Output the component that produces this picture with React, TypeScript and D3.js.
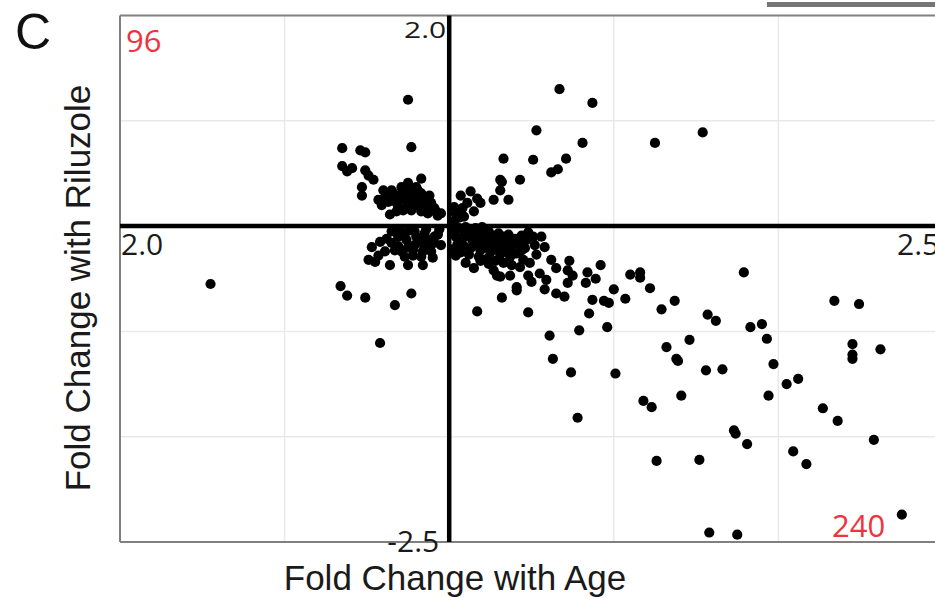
import { useEffect, useRef } from 'react';
import * as d3 from 'd3';

// [fold change with age, fold change with riluzole]
const upperLeft: [number, number][] = [
  [-0.25, 1.2], [-0.23, 0.75], [-0.65, 0.74], [-0.54, 0.72], [-0.51, 0.7], [-0.65, 0.57],
  [-0.62, 0.52], [-0.59, 0.55], [-0.51, 0.53], [-0.49, 0.48], [-0.46, 0.44], [-0.53, 0.37],
  [-0.53, 0.29], [-0.17, 0.45], [-0.36, 0.11], [-0.4, 0.34], [-0.41, 0.25], [-0.35, 0.34],
  [-0.31, 0.29], [-0.27, 0.33], [-0.23, 0.33], [-0.19, 0.34], [-0.37, 0.23], [-0.32, 0.22],
  [-0.27, 0.25], [-0.22, 0.25], [-0.17, 0.31], [-0.15, 0.25], [-0.11, 0.22], [-0.09, 0.17],
  [-0.23, 0.15], [-0.17, 0.14], [-0.13, 0.12], [-0.28, 0.15], [-0.32, 0.14], [-0.41, 0.2],
  [-0.38, 0.29], [-0.25, 0.41], [-0.2, 0.37], [-0.29, 0.37], [-0.34, 0.31], [-0.21, 0.2],
  [-0.07, 0.1], [-0.12, 0.29], [-0.05, 0.12], [-0.08, 0.14], [-0.13, 0.18], [-0.19, 0.2],
  [-0.25, 0.22], [-0.3, 0.27], [-0.43, 0.25], [-0.36, 0.27], [-0.31, 0.18], [-0.26, 0.18],
  [-0.2, 0.28], [-0.15, 0.2], [-0.1, 0.15], [-0.24, 0.29], [-0.33, 0.25], [-0.18, 0.24],
];

const upperRight: [number, number][] = [
  [0.07, 0.29], [0.13, 0.33], [0.17, 0.26], [0.19, 0.22], [0.11, 0.22], [0.08, 0.17],
  [0.15, 0.14], [0.04, 0.12], [0.09, 0.09], [0.03, 0.18], [0.03, 0.05], [0.06, 0.08],
  [0.67, 1.3], [0.87, 1.17], [0.53, 0.91], [0.81, 0.79], [0.33, 0.64], [0.51, 0.63],
  [0.71, 0.64], [0.62, 0.51], [0.66, 0.54], [0.43, 0.44], [0.31, 0.44], [0.32, 0.42],
  [0.31, 0.34], [0.27, 0.25], [0.36, 0.25], [1.25, 0.79], [1.54, 0.89],
];

const lowerLeft: [number, number][] = [
  [-1.45, -0.55], [-0.66, -0.57], [-0.62, -0.66], [-0.51, -0.68], [-0.33, -0.75], [-0.23, -0.64],
  [-0.42, -1.11], [-0.47, -0.2], [-0.49, -0.32], [-0.45, -0.34], [-0.36, -0.37], [-0.25, -0.37],
  [-0.16, -0.37], [-0.42, -0.15], [-0.38, -0.12], [-0.35, -0.16], [-0.31, -0.1], [-0.27, -0.07],
  [-0.21, -0.05], [-0.15, -0.07], [-0.09, -0.1], [-0.07, -0.08], [-0.33, -0.23], [-0.29, -0.24],
  [-0.25, -0.2], [-0.21, -0.18], [-0.17, -0.16], [-0.13, -0.21], [-0.11, -0.24], [-0.22, -0.28],
  [-0.27, -0.29], [-0.43, -0.28], [-0.39, -0.24], [-0.17, -0.29], [-0.24, -0.04], [-0.3, -0.04],
  [-0.13, -0.13], [-0.18, -0.12], [-0.07, -0.08], [-0.05, -0.18], [-0.1, -0.3], [-0.26, -0.13],
  [-0.2, -0.1], [-0.14, -0.03], [-0.09, -0.16], [-0.31, -0.19], [-0.22, -0.23], [-0.16, -0.24],
  [-0.35, -0.05], [-0.06, -0.03],
];

const lowerRight: [number, number][] = [
  [0.03, -0.04], [0.06, -0.02], [0.09, -0.05], [0.12, -0.03], [0.15, -0.06], [0.18, -0.04],
  [0.21, -0.08], [0.24, -0.05], [0.27, -0.09], [0.3, -0.07], [0.33, -0.1], [0.36, -0.08],
  [0.4, -0.12], [0.44, -0.09], [0.48, -0.06], [0.04, -0.1], [0.08, -0.12], [0.11, -0.09],
  [0.14, -0.13], [0.17, -0.11], [0.2, -0.15], [0.23, -0.12], [0.26, -0.16], [0.29, -0.14],
  [0.32, -0.18], [0.35, -0.15], [0.38, -0.2], [0.42, -0.17], [0.46, -0.21], [0.05, -0.17],
  [0.09, -0.19], [0.13, -0.21], [0.16, -0.18], [0.19, -0.23], [0.22, -0.2], [0.25, -0.25],
  [0.28, -0.22], [0.31, -0.27], [0.34, -0.24], [0.37, -0.29], [0.4, -0.26], [0.02, -0.22],
  [0.07, -0.25], [0.12, -0.27], [0.18, -0.29], [0.23, -0.31], [0.28, -0.33], [0.33, -0.35],
  [0.38, -0.37], [0.45, -0.32], [0.1, -0.01], [0.2, -0.01], [0.16, -0.02],
  [0.04, -0.28], [0.1, -0.35], [0.15, -0.4], [0.27, -0.42], [0.31, -0.48], [0.37, -0.47],
  [0.48, -0.47], [0.5, -0.53], [0.55, -0.45], [0.59, -0.51], [0.49, -0.35], [0.43, -0.39],
  [0.41, -0.26], [0.51, -0.1], [0.47, -0.13], [0.44, -0.23], [0.35, -0.13], [0.29, -0.47],
  [0.32, -0.68], [0.17, -0.81], [0.41, -0.58], [0.48, -0.82], [0.53, -0.27], [0.62, -0.32],
  [0.73, -0.33], [0.65, -0.4], [0.72, -0.42], [0.75, -0.47], [0.72, -0.54], [0.7, -0.67],
  [0.58, -0.6], [0.65, -0.64], [0.61, -1.04], [0.79, -0.99], [0.96, -0.96], [0.92, -0.37],
  [0.84, -0.44], [0.89, -0.5], [0.83, -0.54], [0.87, -0.7], [0.94, -0.71], [0.97, -0.73],
  [1.0, -0.6], [0.85, -0.83], [0.41, -0.61], [0.63, -1.26], [0.74, -1.39], [0.78, -1.82],
  [1.01, -1.4], [1.07, -0.69], [1.1, -0.46], [1.16, -0.44], [1.16, -0.49], [1.22, -0.59],
  [1.29, -0.79], [1.37, -0.71], [1.79, -0.44], [1.57, -0.84], [1.62, -0.9], [1.83, -0.96],
  [1.9, -0.93], [1.93, -1.07], [2.34, -0.71], [2.49, -0.74], [1.32, -1.15], [1.46, -1.08],
  [1.38, -1.26], [1.39, -1.28], [1.56, -1.37], [1.66, -1.36], [1.41, -1.61], [1.18, -1.66],
  [1.23, -1.72], [1.26, -2.23], [1.52, -2.22], [1.73, -1.94], [1.74, -1.97], [1.81, -2.07],
  [1.97, -1.31], [1.94, -1.61], [2.05, -1.5], [2.12, -1.45], [2.09, -2.14], [2.17, -2.26],
  [2.27, -1.73], [2.36, -1.85], [2.45, -1.12], [2.45, -1.26], [2.45, -1.22], [2.62, -1.17],
  [2.58, -2.03], [2.75, -2.74], [1.58, -2.91], [1.75, -2.93],
  [0.56, -0.1], [0.58, -0.2], [0.52, -0.18], [0.24, -0.36], [0.19, -0.33],
];

const xGrid = [-1, 1, 2];
const yGrid = [1, -1, -2];
const xEndLabels = ['2.0', '2.5'];
const yEndLabels = ['2.0', '-2.5'];
const quadrantCounts = ['96', '240'];

const ScatterPanel = () => {
  const ref = useRef<SVGSVGElement | null>(null);

  useEffect(() => {
    if (!ref.current) return;
    const svg = d3.select(ref.current);
    svg.selectAll('*').remove();
    const width = 935;
    const height = 598;
    svg.attr('width', width).attr('height', height);

    const x = d3.scaleLinear().domain([-2, 3]).range([120, 943]);
    const y = d3.scaleLinear().domain([-3, 2]).range([542, 15.5]);

    // bit of neighbouring panel in the corner
    svg.append('rect').attr('x', 767).attr('y', 2).attr('width', 168).attr('height', 5).attr('fill', '#767676');

    const grid = svg.append('g').attr('stroke', '#e9e9e9').attr('stroke-width', 1.5);
    grid.selectAll('line.v').data(xGrid).join('line')
      .attr('x1', (d) => x(d)).attr('x2', (d) => x(d))
      .attr('y1', y(2)).attr('y2', y(-3));
    grid.selectAll('line.h').data(yGrid).join('line')
      .attr('class', 'h')
      .attr('x1', x(-2)).attr('x2', width)
      .attr('y1', (d) => y(d)).attr('y2', (d) => y(d));

    // frame
    const frame = svg.append('g').attr('stroke', '#808080').attr('stroke-width', 2).attr('fill', 'none');
    frame.append('line').attr('x1', x(-2)).attr('x2', width).attr('y1', y(2)).attr('y2', y(2));
    frame.append('line').attr('x1', x(-2)).attr('x2', width).attr('y1', y(-3)).attr('y2', y(-3));
    frame.append('line').attr('x1', x(-2)).attr('x2', x(-2)).attr('y1', y(2)).attr('y2', y(-3));

    const all = [...upperLeft, ...upperRight, ...lowerLeft, ...lowerRight];
    svg.append('g').selectAll('circle').data(all).join('circle')
      .attr('cx', (d) => x(d[0]))
      .attr('cy', (d) => y(d[1]))
      .attr('r', 5.1)
      .attr('fill', '#000');

    // axes through the origin
    svg.append('line').attr('x1', x(0)).attr('x2', x(0)).attr('y1', y(2)).attr('y2', y(-3))
      .attr('stroke', '#000').attr('stroke-width', 4.5);
    svg.append('line').attr('x1', x(-2)).attr('x2', width).attr('y1', y(0)).attr('y2', y(0))
      .attr('stroke', '#000').attr('stroke-width', 4.5);

    const tick = { 'font-family': '"Open Sans", sans-serif', 'font-size': 30, fill: '#1a1a1a' };
    const addText = (t: string, tx: number, ty: number, anchor: string, attrs: Record<string, any>) => {
      const el = svg.append('text').attr('x', tx).attr('y', ty).attr('text-anchor', anchor).text(t);
      Object.entries(attrs).forEach(([k, v]) => el.attr(k, v));
      return el;
    };
    addText(xEndLabels[0], x(-2) + 1, y(0) + 29, 'start', tick);
    addText(xEndLabels[1], 897, y(0) + 29, 'start', tick);
    addText(yEndLabels[0], x(0) - 3, 38, 'end', tick)
      .attr('transform', `translate(0,38) scale(1,0.72) translate(0,-38)`);
    addText(yEndLabels[1], x(0) - 10, 552, 'end', tick);

    const red = { 'font-family': '"Open Sans", sans-serif', 'font-size': 31, fill: '#ee3340' };
    addText(quadrantCounts[0], 126, 52, 'start', red);
    addText(quadrantCounts[1], 832, 537, 'start', red);

    const title = { 'font-family': '"Liberation Sans", Arial, sans-serif', 'font-size': 35, fill: '#1a1a1a' };
    addText('Fold Change with Age', 455, 590, 'middle', title);
    addText('Fold Change with Riluzole', 0, 0, 'middle', title)
      .attr('transform', 'translate(90,288) rotate(-90)');

    addText('C', 15, 49, 'start', { 'font-family': '"Liberation Sans", Arial, sans-serif', 'font-size': 50, fill: '#111' });
  }, []);

  return <svg ref={ref} style={{ position: 'absolute', left: 0, top: 0 }} />;
};

export default function App() {
  return <ScatterPanel />;
}
